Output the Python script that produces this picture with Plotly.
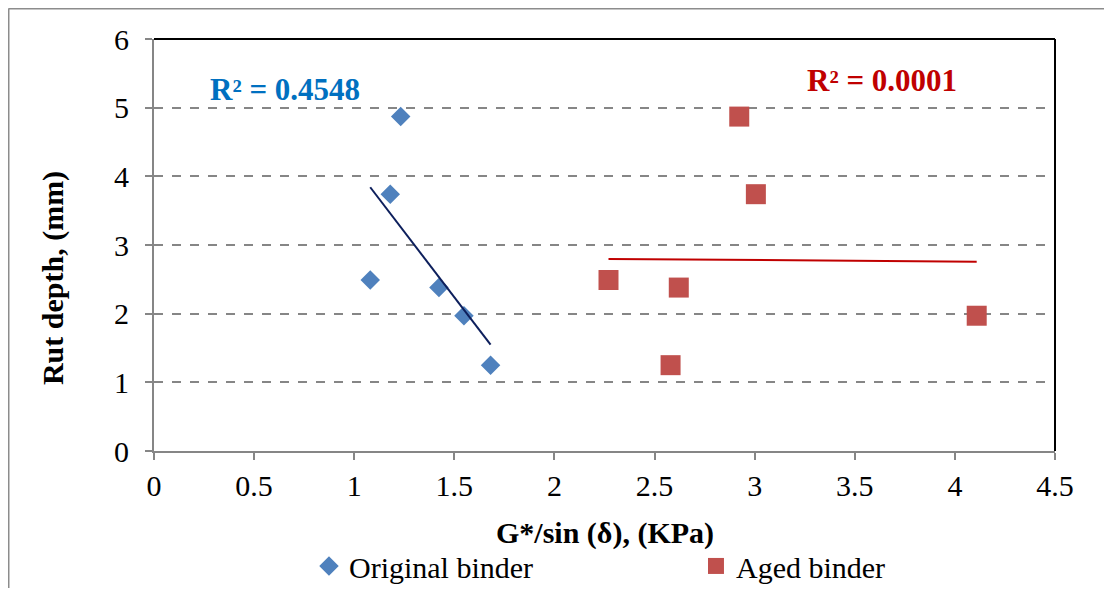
import numpy as np
import plotly.graph_objects as go

# Data
original_x = [1.232, 1.180, 1.080, 1.423, 1.548, 1.681]
original_y = [4.87, 3.74, 2.49, 2.38, 1.97, 1.25]
aged_x = [2.923, 3.006, 2.270, 2.621, 4.109, 2.580]
aged_y = [4.87, 3.74, 2.49, 2.38, 1.97, 1.25]
series_names = ["Original binder", "Aged binder"]
r2_labels = ["R² = 0.4548", "R² = 0.0001"]
x_ticks = [0, 0.5, 1, 1.5, 2, 2.5, 3, 3.5, 4, 4.5]
x_tick_text = ["0", "0.5", "1", "1.5", "2", "2.5", "3", "3.5", "4", "4.5"]
y_ticks = [0, 1, 2, 3, 4, 5, 6]

FONT = "Liberation Serif"
BLUE = "#4F81BD"
RED = "#C0504D"
GRID = "#868686"


def trend(xs, ys):
    xs = np.asarray(xs)
    ys = np.asarray(ys)
    m, b = np.polyfit(xs, ys, 1)
    tx = np.array([xs.min(), xs.max()])
    return tx, m * tx + b


fig = go.Figure()
fig.add_trace(go.Scatter(x=original_x, y=original_y, mode="markers", name=series_names[0],
                         marker=dict(symbol="diamond", size=15, color=BLUE)))
fig.add_trace(go.Scatter(x=aged_x, y=aged_y, mode="markers", name=series_names[1],
                         marker=dict(symbol="square", size=20, color=RED)))
tx, ty = trend(original_x, original_y)
fig.add_trace(go.Scatter(x=tx, y=ty, mode="lines", showlegend=False,
                         line=dict(color="#0D1F5C", width=2)))
tx, ty = trend(aged_x, aged_y)
fig.add_trace(go.Scatter(x=tx, y=ty, mode="lines", showlegend=False,
                         line=dict(color="#C00000", width=2)))

fig.update_layout(
    width=1096, height=580,
    margin=dict(l=146, r=49, t=31, b=137, autoexpand=False),
    paper_bgcolor="white", plot_bgcolor="white",
    font=dict(family=FONT, size=30, color="black"),
    showlegend=True,
    legend=dict(orientation="h", x=0.172, xanchor="left", y=-0.279, yanchor="middle",
                font=dict(family=FONT, size=30, color="black"),
                entrywidth=342, entrywidthmode="pixels",
                bgcolor="rgba(0,0,0,0)", itemclick=False),
    xaxis=dict(range=[0, 4.5], tickvals=x_ticks, ticktext=x_tick_text,
               showgrid=False, zeroline=False, showline=True, linecolor=GRID, linewidth=2,
               ticks="outside", ticklen=7, tickcolor=GRID, tickwidth=1.5,
               tickfont=dict(family=FONT, size=30)),
    yaxis=dict(range=[0, 6], tickvals=y_ticks,
               showgrid=True, gridcolor=GRID, griddash="dash", gridwidth=1.5,
               zeroline=False, showline=True, linecolor=GRID, linewidth=2,
               ticks="outside", ticklen=7, tickcolor=GRID, tickwidth=1.5,
               ticklabelstandoff=10,
               tickfont=dict(family=FONT, size=30)),
    annotations=[
        dict(text="<b>G*/sin (δ), (KPa)</b>", xref="paper", yref="paper", x=0.5, y=-0.199,
             showarrow=False, font=dict(family=FONT, size=30), xanchor="center", yanchor="middle"),
        dict(text="<b>Rut depth, (mm)</b>", xref="paper", yref="paper", x=-0.112, y=0.42,
             showarrow=False, textangle=-90, font=dict(family=FONT, size=30),
             xanchor="center", yanchor="middle"),
        dict(text="<b>" + r2_labels[0] + "</b>", x=0.652, y=5.26, xref="x", yref="y",
             showarrow=False, font=dict(family=FONT, size=31, color="#0070C0")),
        dict(text="<b>" + r2_labels[1] + "</b>", x=3.634, y=5.40, xref="x", yref="y",
             showarrow=False, font=dict(family=FONT, size=31, color="#C00000")),
    ],
    shapes=[
        # black top and right border of plot area
        dict(type="line", xref="paper", yref="paper", x0=0, x1=1, y0=1, y1=1,
             line=dict(color="black", width=2)),
        dict(type="line", xref="paper", yref="paper", x0=1, x1=1, y0=0, y1=1,
             line=dict(color="black", width=2)),
        # outer chart border (top and left visible)
        dict(type="line", xref="paper", yref="paper", x0=-0.1615, x1=1.2, y0=1.074, y1=1.074,
             line=dict(color="#8C8C8C", width=2)),
        dict(type="line", xref="paper", yref="paper", x0=-0.1615, x1=-0.1615, y0=1.074, y1=-0.5,
             line=dict(color="#8C8C8C", width=2)),
    ],
)

fig.write_html("out.html")
